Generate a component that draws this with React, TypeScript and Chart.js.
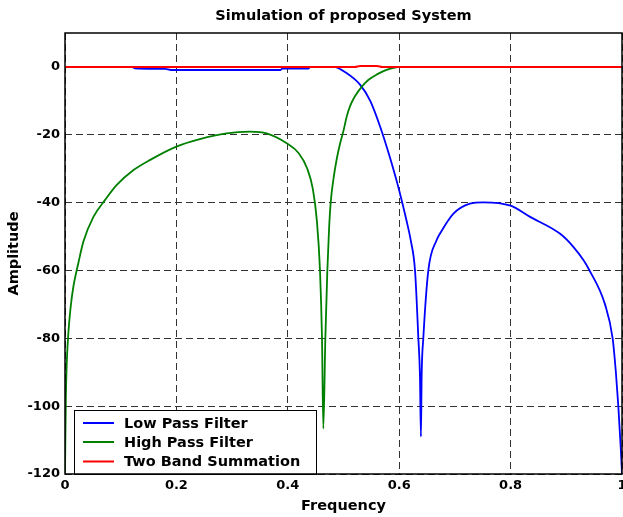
import React, { useEffect, useRef } from "react";
import { Chart, registerables } from "chart.js";

Chart.register(...registerables);

const chartTitle = "Simulation of proposed System";
const xAxisLabel = "Frequency";
const yAxisLabel = "Amplitude";
const seriesNames = ["Low Pass Filter", "High Pass Filter", "Two Band Summation"];
const seriesColors = ["#0000ff", "#008000", "#ff0000"];

const xTicks = [0, 0.2, 0.4, 0.6, 0.8, 1];
const yTicks = [-120, -100, -80, -60, -40, -20, 0];

const lowFreq = [0, 0.12, 0.125, 0.18, 0.19, 0.387, 0.39, 0.437, 0.44, 0.482, 0.506, 0.53, 0.548, 0.566, 0.583, 0.6, 0.613, 0.6206, 0.6284, 0.6344, 0.6373, 0.639, 0.6403, 0.6433, 0.6523, 0.6673, 0.673, 0.697, 0.727, 0.751, 0.8, 0.835, 0.889, 0.913, 0.931, 0.94, 0.9695, 0.9832, 0.989, 0.9934, 0.998, 1];
const lowAmp = [0, 0, -0.4, -0.6, -0.9, -0.9, -0.5, -0.5, 0, 0, -1.9, -5.3, -10, -17.7, -26.5, -36.4, -45.2, -51, -60, -80, -91.3, -109, -91, -80, -60, -51, -49.2, -43.3, -40.3, -39.9, -40.9, -44.2, -49.2, -53.1, -57, -59.5, -70, -80, -90, -100, -113, -120];

const highFreq = [0, 0.0015, 0.003, 0.006, 0.01, 0.015, 0.024, 0.033, 0.051, 0.072, 0.093, 0.123, 0.153, 0.2, 0.242, 0.29, 0.332, 0.362, 0.398, 0.42, 0.435, 0.445, 0.452, 0.4578, 0.4614, 0.4638, 0.4674, 0.471, 0.474, 0.477, 0.482, 0.488, 0.494, 0.4997, 0.506, 0.512, 0.52, 0.533, 0.545, 0.56, 0.575, 0.59, 0.6, 1];
const highAmp = [-120, -98, -88, -78.5, -71, -64.8, -57.8, -51.5, -44.2, -39.2, -34.8, -30.4, -27.4, -23.5, -21.3, -19.6, -19.1, -19.6, -22.5, -25.5, -30, -36, -45, -60, -80, -106.6, -80, -60, -48, -40, -33, -27, -22.5, -19, -14.5, -11.5, -8.8, -5.8, -3.8, -2.2, -1, -0.3, 0, 0];

const sumFreq = [0, 0.52, 0.53, 0.56, 0.57, 1];
const sumAmp = [0, 0, 0.3, 0.3, 0, 0];

const FONT = "'DejaVu Sans', sans-serif";

const frameAndLegend = {
  id: "frameAndLegend",
  afterDatasetsDraw(chart: any) {
    const { ctx, chartArea } = chart;
    const { left, right, top, bottom } = chartArea;
    ctx.save();
    const bx = left + 9;
    const bw = 242;
    const bh = 64;
    const by = bottom - bh;
    ctx.fillStyle = "#ffffff";
    ctx.fillRect(bx, by, bw, bh);
    ctx.strokeStyle = "#000000";
    ctx.lineWidth = 1;
    ctx.strokeRect(bx + 0.5, by + 0.5, bw, bh);
    const rows = [bottom - 51, bottom - 32, bottom - 12.5];
    ctx.font = `bold 14.5px ${FONT}`;
    ctx.textBaseline = "middle";
    ctx.textAlign = "left";
    chart.data.datasets.forEach((ds: any, i: number) => {
      const y = rows[i];
      ctx.strokeStyle = ds.borderColor;
      ctx.lineWidth = 2;
      ctx.beginPath();
      ctx.moveTo(left + 18, y);
      ctx.lineTo(left + 49, y);
      ctx.stroke();
      ctx.fillStyle = "#000000";
      ctx.fillText(ds.label, left + 59, y + 1);
    });
    ctx.strokeStyle = "#000000";
    ctx.lineWidth = 1.5;
    ctx.strokeRect(left, top, right - left, bottom - top);
    ctx.fillStyle = "#000000";
    ctx.textAlign = "center";
    ctx.textBaseline = "middle";
    ctx.fillText(chartTitle, (left + right) / 2, 16.5);
    ctx.restore();
  },
};

export default function App() {
  const ref = useRef<HTMLCanvasElement | null>(null);

  useEffect(() => {
    if (!ref.current) return;
    const mk = (xs: number[], ys: number[]) => xs.map((x, i) => ({ x, y: ys[i] }));
    const common = { pointRadius: 0, cubicInterpolationMode: "monotone" };
    const chart = new Chart(ref.current, {
      type: "line",
      data: {
        datasets: [
          { ...common, label: seriesNames[0], data: mk(lowFreq, lowAmp), borderColor: seriesColors[0], borderWidth: 1.8, order: 3 },
          { ...common, label: seriesNames[1], data: mk(highFreq, highAmp), borderColor: seriesColors[1], borderWidth: 1.8, order: 2 },
          { ...common, label: seriesNames[2], data: mk(sumFreq, sumAmp), borderColor: seriesColors[2], borderWidth: 2, order: 1 },
        ],
      },
      options: {
        responsive: false,
        animation: false,
        layout: { padding: { left: 0, right: 1, top: 33, bottom: 0 } },
        plugins: {
          legend: { display: false },
          tooltip: { enabled: false },
          title: { display: false },
        },
        scales: {
          x: {
            type: "linear",
            min: 0,
            max: 1,
            afterBuildTicks: (s: any) => { s.ticks = xTicks.map((v) => ({ value: v })); },
            afterFit: (s: any) => { s.height = 43; s.paddingLeft = 0; s.paddingRight = 0; },
            ticks: {
              color: "#000",
              font: { family: FONT, size: 13, weight: "bold" },
              padding: 4,
              maxRotation: 0,
              callback: (v: any) => String(Math.round(Number(v) * 10) / 10),
            },
            grid: { color: "#333", lineWidth: 1, drawTicks: false },
            border: { display: false, dash: [7, 4] },
            title: {
              display: true,
              text: xAxisLabel,
              color: "#000",
              font: { family: FONT, size: 14.5, weight: "bold" },
              padding: { top: 0, bottom: 2 },
            },
          },
          y: {
            type: "linear",
            min: -120,
            max: 10,
            afterBuildTicks: (s: any) => { s.ticks = yTicks.map((v) => ({ value: v })); },
            afterFit: (s: any) => { s.width = 65; s.paddingTop = 0; s.paddingBottom = 0; },
            ticks: {
              color: "#000",
              font: { family: FONT, size: 13, weight: "bold" },
              padding: 5,
            },
            grid: { color: "#333", lineWidth: 1, drawTicks: false },
            border: { display: false, dash: [7, 4] },
            title: {
              display: true,
              text: yAxisLabel,
              color: "#000",
              font: { family: FONT, size: 14.5, weight: "bold" },
              padding: { top: 6, bottom: 0 },
            },
          },
        },
      } as any,
      plugins: [frameAndLegend],
    });
    return () => chart.destroy();
  }, []);

  return (
    <div style={{ position: "fixed", left: 0, top: 0, width: 623, height: 517, background: "#fff" }}>
      <canvas ref={ref} width={623} height={517} style={{ display: "block" }} />
    </div>
  );
}
